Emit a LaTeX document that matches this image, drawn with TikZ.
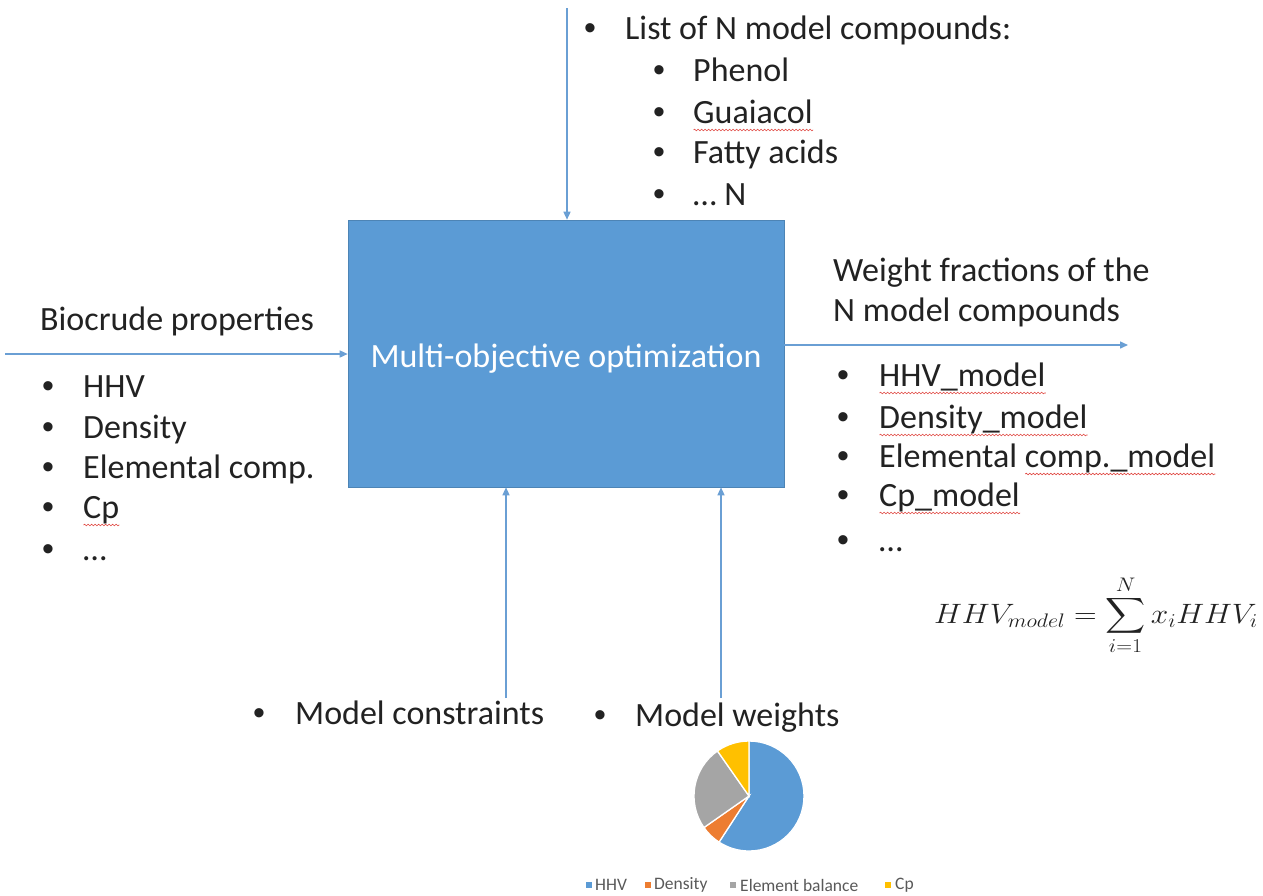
\RequirePackage{fix-cm}
\documentclass[tikz,border=0pt]{standalone}
\usepackage{exscale}
\usepackage{fontspec}
\setmainfont{Carlito}
\newfontfamily\bulfont{Liberation Sans}
\usetikzlibrary{arrows.meta,decorations.pathmorphing,positioning}
\definecolor{boxblue}{HTML}{5B9BD5}
\definecolor{arrowblue}{HTML}{6A9FD4}
\definecolor{txt}{HTML}{222222}
\definecolor{spell}{HTML}{E0453F}
\definecolor{pieorange}{HTML}{ED7D31}
\definecolor{piegray}{HTML}{A5A5A5}
\definecolor{pieyellow}{HTML}{FFC000}
\definecolor{legtxt}{HTML}{595959}
\newsavebox\sqgbox
\newlength\sqgw
\newcommand\sqg[1]{\sbox\sqgbox{#1}\setlength\sqgw{\wd\sqgbox}\rlap{\raisebox{-7pt}{\tikz[x=1pt,y=1pt,baseline=0pt]\draw[spell,line width=0.6pt,decorate,decoration={snake,amplitude=0.8pt,segment length=3.5pt}](0,0)--(\sqgw,0);}}\usebox\sqgbox}
\newcommand\bul[1]{\makebox[#1pt][l]{{\bulfont •}}}
\begin{document}
\begin{tikzpicture}[x=1pt,y=-1pt,
  lbl/.style={anchor=base west,inner sep=0pt,text=txt,font=\fontsize{34}{40}\selectfont},
  flow/.style={draw=arrowblue,line width=1.4pt,-{Triangle[length=8pt,width=7pt]}},
  optbox/.style={fill=boxblue,draw=boxblue!85!black,line width=0.6pt,minimum width=436pt,minimum height=267pt,text=white,font=\fontsize{34}{40}\selectfont,inner sep=0pt},
  legsq/.style={fill=#1,minimum size=5.5pt,inner sep=0pt},
  legtext/.style={anchor=west,inner sep=0pt,text=legtxt,font=\fontsize{17.5}{19}\selectfont}]
\useasboundingbox (0,0) rectangle (1263,895);
\fill[white] (0,0) rectangle (1263,895);

% central box
\node[optbox] (opt) at (566,353.5) {\raisebox{-14pt}[0pt][0pt]{Multi-objective optimization}};

% top list
\node[lbl] (list) at (584,39) {\bul{41}List of N model compounds:};
\node[lbl] (phenol) at (653,81) {\bul{40}Phenol};
\node[lbl] (guaiacol) at (653,123) {\bul{40}\sqg{Guaiacol}};
\node[lbl] (fatty) at (653,163) {\bul{40}Fatty acids};
\node[lbl] (dotsn) at (653,205) {\bul{40}… N};

% left
\node[lbl] (bio) at (40,330) {Biocrude properties};
\node[lbl] (l1) at (42,397) {\bul{41}HHV};
\node[lbl] (l2) at (42,438) {\bul{41}Density};
\node[lbl] (l3) at (42,478) {\bul{41}Elemental comp.};
\node[lbl] (l4) at (42,518) {\bul{41}\sqg{Cp}};
\node[lbl] (l5) at (42,560) {\bul{41}…};

% right
\node[lbl] (w1) at (833,281) {Weight fractions of the};
\node[lbl] (w2) at (833,321) {N model compounds};
\node[lbl] (r1) at (837,386) {\bul{42}\sqg{HHV\_model}};
\node[lbl] (r2) at (837,428) {\bul{42}\sqg{Density\_model}};
\node[lbl] (r3) at (837,467) {\bul{42}Elemental \sqg{comp.\_model}};
\node[lbl] (r4) at (837,506) {\bul{42}\sqg{Cp\_model}};
\node[lbl] (r5) at (837,551) {\bul{42}…};

% formula
\node[anchor=base east,inner sep=0pt,text=txt,font=\fontsize{28}{32}\selectfont] (eq) at (1258,623)
  {\scalebox{1.12}[1]{$\displaystyle HHV_{model}=\sum_{i=1}^{N}x_iHHV_i$}};

% bottom
\node[lbl] (cons) at (253,724) {\bul{42}Model constraints};
\node[lbl] (wts) at (594,726) {\bul{41}Model weights};

% arrows
\coordinate (tin) at (567,8);
\draw[flow] (tin) -- (tin |- opt.north);
\coordinate (lin) at (5,354);
\draw[flow] (lin) -- (lin -| opt.west);
\coordinate (rout) at (1128,345);
\draw[flow] (opt.east |- rout) -- (rout);
\coordinate (b1) at (506,698);
\draw[flow] (b1) -- (b1 |- opt.south);
\coordinate (b2) at (721,698);
\draw[flow] (b2) -- (b2 |- opt.south);

% pie chart
\begin{scope}[shift={(749,796)}]
\begin{scope}[yscale=-1]
\def\r{55}
\filldraw[fill=boxblue,draw=white,line width=1.3pt] (0,0) -- (90:\r) arc[start angle=90,end angle=-123,radius=\r] -- cycle;
\filldraw[fill=pieorange,draw=white,line width=1.3pt] (0,0) -- (-123:\r) arc[start angle=-123,end angle=-145,radius=\r] -- cycle;
\filldraw[fill=piegray,draw=white,line width=1.3pt] (0,0) -- (215:\r) arc[start angle=215,end angle=125,radius=\r] -- cycle;
\filldraw[fill=pieyellow,draw=white,line width=1.3pt] (0,0) -- (125:\r) arc[start angle=125,end angle=90,radius=\r] -- cycle;
\end{scope}
\end{scope}

% legend
\node[legsq=boxblue] (s1) at (589,885) {};
\node[legtext] (t1) at (595,885) {HHV};
\node[legsq=pieorange] (s2) at (648,885) {};
\node[legtext] (t2) at (654,885) {Density};
\node[legsq=piegray] (s3) at (733,885) {};
\node[legtext] (t3) at (740,885) {Element balance};
\node[legsq=pieyellow] (s4) at (888,885) {};
\node[legtext] (t4) at (895,885) {Cp};
\end{tikzpicture}
\end{document}
